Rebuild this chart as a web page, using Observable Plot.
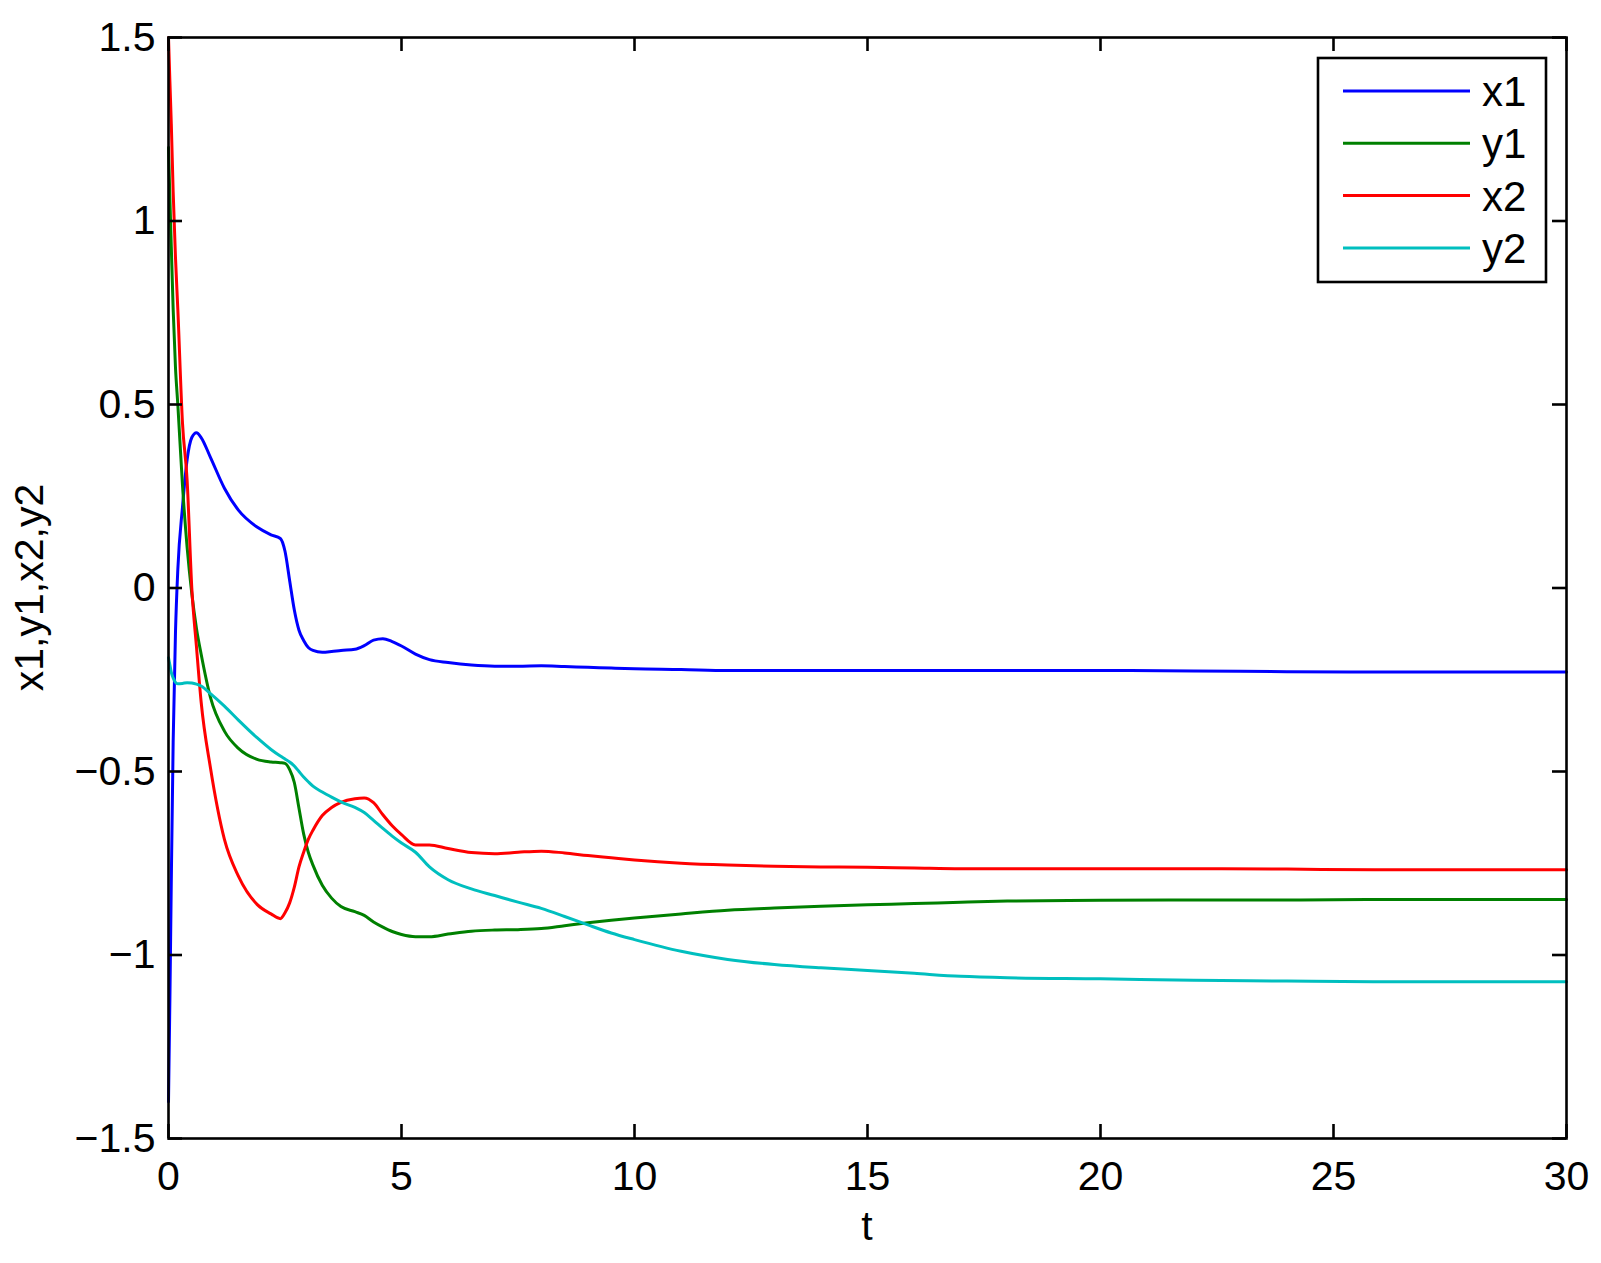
<!DOCTYPE html>
<html>
<head>
<meta charset="utf-8">
<script src="https://cdn.jsdelivr.net/npm/d3@7"></script>
<script src="https://cdn.jsdelivr.net/npm/@observablehq/plot@0.6"></script>
<style>
  html, body { margin: 0; padding: 0; background: #fff; }
  #wrap { position: relative; width: 1601px; height: 1263px; }
  #wrap svg { position: absolute; left: 0; top: 0; }
</style>
</head>
<body>
<div id="wrap"></div>
<script>
// ---- data ----
const t  = [0, 0.03, 0.06, 0.1, 0.15, 0.2, 0.3, 0.4, 0.5, 0.6, 0.7, 0.9, 1.2, 1.5, 1.9, 2.2, 2.4, 2.5, 2.6, 2.7, 2.8, 2.9, 3.0, 3.1, 3.3, 3.5, 3.7, 4.0, 4.2, 4.4, 4.6, 4.8, 5.0, 5.3, 5.6, 6.0, 6.5, 7.0, 7.5, 8.0, 8.5, 9.0, 9.5, 10, 11, 12, 13, 14, 15, 16, 17, 18, 20, 22, 24, 26, 28, 30];
const x1 = [-1.40, -1.12, -0.80, -0.42, -0.12, 0.05, 0.22, 0.35, 0.41, 0.423, 0.41, 0.356, 0.272, 0.212, 0.166, 0.145, 0.135, 0.10, 0.02, -0.06, -0.115, -0.143, -0.162, -0.170, -0.175, -0.173, -0.170, -0.167, -0.157, -0.142, -0.138, -0.146, -0.158, -0.180, -0.195, -0.203, -0.210, -0.213, -0.213, -0.212, -0.214, -0.216, -0.218, -0.220, -0.222, -0.225, -0.225, -0.225, -0.225, -0.225, -0.225, -0.225, -0.225, -0.226, -0.228, -0.229, -0.229, -0.229];
const y1 = [1.20, 1.06, 0.93, 0.76, 0.60, 0.50, 0.28, 0.11, -0.015, -0.11, -0.18, -0.298, -0.39, -0.437, -0.467, -0.474, -0.476, -0.478, -0.495, -0.53, -0.60, -0.67, -0.72, -0.755, -0.81, -0.845, -0.868, -0.882, -0.892, -0.91, -0.924, -0.936, -0.944, -0.950, -0.950, -0.943, -0.935, -0.932, -0.931, -0.928, -0.920, -0.912, -0.905, -0.899, -0.888, -0.878, -0.872, -0.867, -0.863, -0.860, -0.856, -0.853, -0.851, -0.850, -0.850, -0.849, -0.849, -0.849];
const x2 = [1.50, 1.38, 1.265, 1.08, 0.90, 0.76, 0.45, 0.293, 0.0, -0.16, -0.31, -0.49, -0.685, -0.785, -0.862, -0.888, -0.901, -0.885, -0.858, -0.815, -0.76, -0.72, -0.685, -0.660, -0.620, -0.598, -0.584, -0.574, -0.572, -0.585, -0.618, -0.648, -0.672, -0.700, -0.700, -0.710, -0.721, -0.724, -0.720, -0.717, -0.722, -0.729, -0.735, -0.741, -0.750, -0.755, -0.758, -0.760, -0.761, -0.763, -0.765, -0.765, -0.765, -0.765, -0.766, -0.768, -0.768, -0.768];
const y2 = [-0.19, -0.21, -0.23, -0.245, -0.257, -0.261, -0.260, -0.258, -0.259, -0.262, -0.267, -0.288, -0.322, -0.36, -0.408, -0.44, -0.458, -0.466, -0.474, -0.485, -0.50, -0.515, -0.528, -0.54, -0.556, -0.570, -0.583, -0.598, -0.612, -0.633, -0.655, -0.676, -0.695, -0.72, -0.76, -0.795, -0.82, -0.838, -0.856, -0.873, -0.895, -0.918, -0.94, -0.958, -0.99, -1.012, -1.026, -1.035, -1.042, -1.050, -1.058, -1.062, -1.065, -1.069, -1.071, -1.073, -1.073, -1.073];

const seriesNames  = ["x1", "y1", "x2", "y2"];
const seriesColors = ["#0000ff", "#008000", "#ff0000", "#00bfbf"];
const seriesValues = [x1, y1, x2, y2];

const xTicks = [0, 5, 10, 15, 20, 25, 30];
const yTicks = [-1.5, -1, -0.5, 0, 0.5, 1, 1.5];
const xLabel = "t";
const yLabel = "x1,y1,x2,y2";

// ---- layout ----
const W = 1601, H = 1263;
const mL = 168, mR = 35, mT = 37, mB = 125;
const plotW = W - mL - mR, plotH = H - mT - mB;
const tickLen = 14;
const FONT = "'Liberation Sans', Arial, Helvetica, sans-serif";
const fs = 41;
const fmt = d => (d < 0 ? "\u2212" : "") + Math.abs(d);

const lineMarks = seriesValues.map((vals, i) =>
  Plot.line(t, {x: (d) => d, y: (d, j) => vals[j], stroke: seriesColors[i], strokeWidth: 3, curve: "monotone-x"})
);

const chart = Plot.plot({
  width: W, height: H,
  marginLeft: mL, marginRight: mR, marginTop: mT, marginBottom: mB,
  style: {background: "white", fontFamily: FONT, color: "black"},
  x: {domain: [0, 30], axis: null},
  y: {domain: [-1.5, 1.5], axis: null},
  marks: [
    ...lineMarks,
    Plot.frame({stroke: "black", strokeWidth: 2.6}),
    // inward ticks on all four sides
    Plot.tickX(xTicks, {x: d => d, stroke: "black", strokeWidth: 2.6, insetTop: plotH - tickLen}),
    Plot.tickX(xTicks, {x: d => d, stroke: "black", strokeWidth: 2.6, insetBottom: plotH - tickLen}),
    Plot.tickY(yTicks, {y: d => d, stroke: "black", strokeWidth: 2.6, insetRight: plotW - tickLen}),
    Plot.tickY(yTicks, {y: d => d, stroke: "black", strokeWidth: 2.6, insetLeft: plotW - tickLen}),
    Plot.axisX({ticks: xTicks, tickSize: 0, tickPadding: 22, fontSize: fs, tickFormat: fmt, label: null}),
    Plot.axisY({ticks: yTicks, tickSize: 0, tickPadding: 13, fontSize: fs, tickFormat: fmt, label: null})
  ]
});

const wrap = document.getElementById("wrap");
wrap.appendChild(chart);

// ---- overlay: axis titles and legend ----
const ov = d3.select(wrap).append("svg")
  .attr("width", W).attr("height", H)
  .style("pointer-events", "none");

ov.append("text")
  .attr("x", mL + plotW / 2).attr("y", 1240)
  .attr("text-anchor", "middle")
  .attr("font-family", FONT).attr("font-size", fs).attr("fill", "black")
  .text(xLabel);

ov.append("text")
  .attr("transform", `translate(43,${mT + plotH / 2}) rotate(-90)`)
  .attr("text-anchor", "middle")
  .attr("font-family", FONT).attr("font-size", fs).attr("fill", "black")
  .text(yLabel);

const legX = 1318, legY = 58, legW = 228, legH = 224;
const rowY0 = 91, rowStep = 52.3;
ov.append("rect")
  .attr("x", legX).attr("y", legY).attr("width", legW).attr("height", legH)
  .attr("fill", "white").attr("stroke", "black").attr("stroke-width", 2.6);
seriesNames.forEach((name, i) => {
  const y = rowY0 + i * rowStep;
  ov.append("line")
    .attr("x1", 1343).attr("x2", 1470).attr("y1", y).attr("y2", y)
    .attr("stroke", seriesColors[i]).attr("stroke-width", 3);
  ov.append("text")
    .attr("x", 1482).attr("y", y + 15)
    .attr("font-family", FONT).attr("font-size", 42).attr("fill", "black")
    .text(name);
});
</script>
</body>
</html>
